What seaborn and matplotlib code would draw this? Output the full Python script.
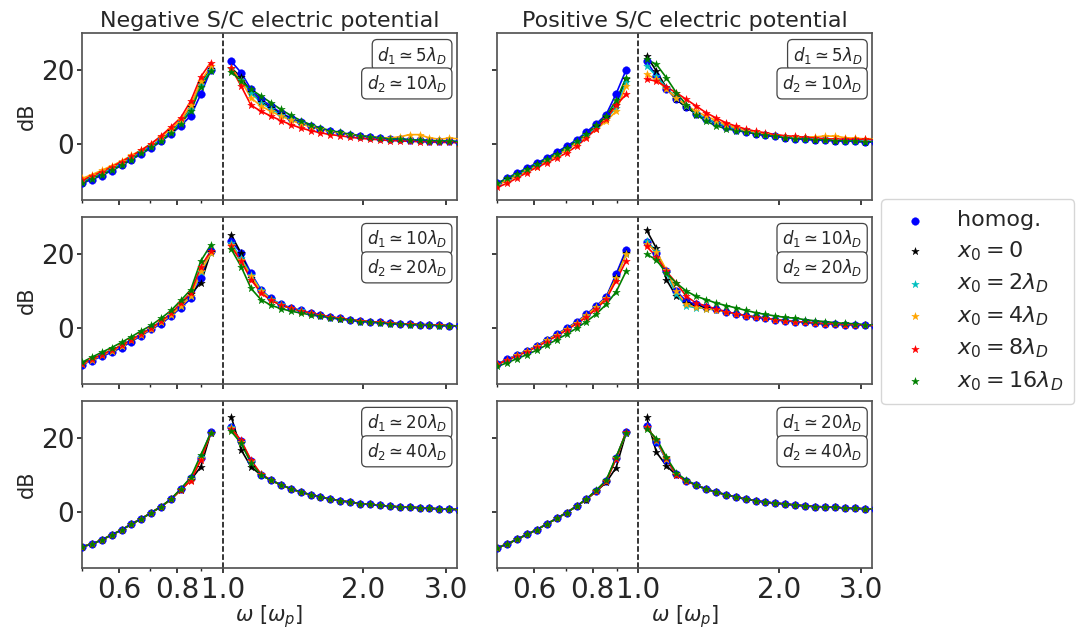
import matplotlib
matplotlib.use("Agg")
import matplotlib.pyplot as plt
import seaborn as sns
from matplotlib.ticker import NullFormatter

# frequencies (units of omega_p), below and above the plasma frequency
omega_low = [0.500, 0.525, 0.551, 0.579, 0.608, 0.638, 0.670, 0.704, 0.739, 0.776, 0.814, 0.855, 0.898, 0.943]
omega_high = [1.043, 1.095, 1.150, 1.207, 1.268, 1.331, 1.398, 1.468, 1.541, 1.618, 1.699, 1.784,
              1.873, 1.967, 2.065, 2.168, 2.277, 2.391, 2.510, 2.636, 2.767, 2.906, 3.051, 3.204]

# --- negative potential, d1 ~ 5 lambda_D
neg5_homog = [-10.5, -9.5, -8.4, -7.1, -5.7, -4.2, -2.6, -1.0, 0.8, 2.8, 5.0, 7.7, 13.5, 20.0,
              22.3, 19.3, 14.8, 12.1, 10.3, 8.5, 7.1, 6.0, 5.0, 4.2, 3.5, 3.1, 2.6, 2.3, 2.0, 1.7, 1.5, 1.4, 1.2, 1.1, 1.0, 0.9, 0.8, 0.7]
neg5_x0 = [-10.0, -9.0, -7.9, -6.6, -5.2, -3.7, -2.1, -0.5, 1.3, 3.5, 6.0, 10.0, 16.5, 20.3,
           20.6, 18.0, 14.0, 11.5, 9.8, 8.2, 6.9, 5.8, 4.9, 4.1, 3.5, 3.0, 2.6, 2.3, 2.0, 1.7, 1.5, 1.4, 1.2, 1.1, 1.0, 0.9, 0.8, 0.7]
neg5_x2 = [-10.0, -9.0, -7.9, -6.6, -5.2, -3.7, -2.1, -0.5, 1.3, 3.4, 5.9, 9.5, 16.0, 20.0,
           20.2, 17.2, 13.9, 11.2, 9.5, 8.0, 6.7, 5.7, 4.8, 4.1, 3.5, 3.0, 2.6, 2.3, 2.0, 1.7, 1.5, 1.4, 1.2, 1.1, 1.0, 0.9, 0.8, 0.7]
neg5_x4 = [-9.2, -8.2, -7.0, -5.8, -4.5, -3.0, -1.5, 0.2, 2.0, 4.2, 6.5, 10.5, 17.0, 21.0,
           20.6, 17.0, 12.5, 10.3, 8.9, 7.6, 6.5, 5.5, 4.7, 4.0, 3.4, 3.0, 2.6, 2.3, 2.0, 1.8, 1.7, 2.0, 2.6, 2.6, 1.7, 1.4, 1.6, 1.5]
neg5_x8 = [-9.6, -8.6, -7.4, -6.1, -4.7, -3.2, -1.6, 0.2, 2.3, 4.7, 7.2, 11.7, 18.2, 22.0,
           20.5, 15.7, 10.5, 8.9, 7.6, 6.4, 5.3, 4.4, 3.7, 3.1, 2.6, 2.3, 1.9, 1.6, 1.4, 1.2, 1.0, 0.9, 0.8, 0.7, 0.6, 0.5, 0.5, 0.4]
neg5_x16 = [-10.3, -9.3, -8.2, -7.0, -5.6, -4.1, -2.4, -0.8, 1.0, 3.0, 5.5, 9.0, 15.5, 19.6,
            19.5, 17.0, 14.8, 13.0, 11.2, 9.4, 7.8, 6.4, 5.3, 4.4, 3.7, 3.2, 2.7, 2.3, 2.0, 1.7, 1.5, 1.4, 1.2, 1.1, 1.0, 0.9, 0.8, 0.7]

# --- positive potential, d1 ~ 5 lambda_D
pos5_homog = [-10.5, -9.1, -7.7, -6.4, -5.0, -3.7, -2.1, -0.5, 1.2, 3.3, 5.5, 8.0, 13.6, 20.0,
              22.3, 18.4, 15.0, 12.1, 10.0, 8.2, 6.7, 5.6, 4.6, 3.9, 3.3, 2.8, 2.4, 2.1, 1.8, 1.5, 1.4, 1.2, 1.1, 1.0, 0.9, 0.8, 0.7, 0.6]
pos5_x0 = [-10.7, -9.4, -8.0, -6.7, -5.4, -4.1, -2.6, -1.0, 0.7, 2.7, 4.8, 7.3, 10.7, 17.5,
           23.8, 19.7, 15.2, 12.1, 10.0, 8.2, 6.9, 5.8, 4.9, 4.2, 3.5, 2.9, 2.5, 2.1, 1.8, 1.6, 1.4, 1.2, 1.1, 1.0, 0.9, 0.8, 0.7, 0.6]
pos5_x2 = [-10.8, -9.6, -8.2, -6.9, -5.6, -4.3, -2.8, -1.2, 0.5, 2.4, 4.5, 6.9, 9.8, 16.8,
           21.1, 18.4, 15.2, 12.5, 10.3, 8.5, 6.9, 5.8, 4.9, 4.1, 3.5, 3.0, 2.6, 2.2, 1.9, 1.7, 1.5, 1.3, 1.2, 1.1, 1.0, 0.9, 0.8, 0.7]
pos5_x4 = [-11.0, -9.8, -8.6, -7.3, -6.0, -4.6, -3.1, -1.5, 0.2, 2.0, 4.0, 6.2, 8.9, 15.7,
           18.8, 17.5, 14.8, 12.5, 10.5, 8.9, 7.6, 6.4, 5.3, 4.4, 3.7, 3.2, 2.8, 2.5, 2.2, 2.0, 1.9, 2.0, 2.2, 2.2, 1.8, 1.6, 1.5, 1.5]
pos5_x8 = [-11.6, -10.5, -9.1, -7.6, -6.2, -5.0, -3.7, -2.3, -0.5, 1.7, 4.2, 6.9, 10.5, 13.4,
           17.5, 17.0, 15.4, 13.9, 12.1, 10.3, 8.5, 7.1, 5.8, 4.9, 4.1, 3.5, 3.1, 2.6, 2.3, 2.1, 1.9, 1.7, 1.5, 1.4, 1.4, 1.3, 1.3, 1.2]
pos5_x16 = [-10.5, -9.2, -7.9, -6.6, -5.3, -4.0, -2.5, -0.9, 0.9, 2.9, 5.1, 7.6, 11.8, 17.9,
            22.9, 21.5, 17.9, 13.9, 10.7, 8.0, 6.2, 5.0, 4.2, 3.7, 3.3, 2.8, 2.4, 2.1, 1.8, 1.5, 1.4, 1.2, 1.1, 1.0, 0.9, 0.8, 0.7, 0.6]

# --- negative potential, d1 ~ 10 lambda_D
neg10_homog = [-9.8, -8.7, -7.6, -6.5, -5.2, -3.6, -2.0, -0.3, 1.2, 3.3, 5.5, 8.0, 13.5, 20.8,
               23.5, 20.2, 14.8, 10.4, 8.0, 6.4, 5.5, 4.8, 4.2, 3.6, 3.0, 2.7, 2.3, 2.0, 1.8, 1.6, 1.4, 1.2, 1.1, 1.0, 0.9, 0.8, 0.7, 0.6]
neg10_x0 = [-9.6, -8.4, -7.2, -6.0, -4.7, -3.2, -1.6, 0.0, 1.7, 3.7, 6.0, 9.2, 12.2, 20.4,
            25.1, 20.2, 13.5, 10.0, 7.8, 6.3, 5.4, 4.7, 4.1, 3.5, 3.0, 2.6, 2.3, 2.0, 1.8, 1.6, 1.4, 1.2, 1.1, 1.0, 0.9, 0.8, 0.7, 0.6]
neg10_x2 = [-9.6, -8.4, -7.2, -6.0, -4.7, -3.2, -1.6, 0.0, 1.7, 3.7, 6.0, 8.8, 15.0, 20.2,
            22.9, 18.8, 14.4, 10.2, 7.9, 6.4, 5.5, 4.8, 4.2, 3.6, 3.0, 2.7, 2.3, 2.0, 1.8, 1.6, 1.4, 1.2, 1.1, 1.0, 0.9, 0.8, 0.7, 0.6]
neg10_x4 = [-9.7, -8.5, -7.3, -6.1, -4.8, -3.3, -1.7, -0.1, 1.6, 3.6, 5.9, 8.7, 15.3, 20.2,
            22.4, 18.4, 14.0, 10.0, 7.7, 6.3, 5.4, 4.7, 4.1, 3.6, 3.0, 2.7, 2.3, 2.0, 1.8, 1.6, 1.4, 1.2, 1.1, 1.0, 0.9, 0.8, 0.7, 0.6]
neg10_x8 = [-9.5, -8.3, -7.1, -5.9, -4.6, -3.1, -1.5, 0.1, 1.9, 4.0, 6.8, 9.5, 16.6, 20.8,
            22.0, 18.0, 13.1, 9.5, 7.5, 6.2, 5.4, 4.7, 4.1, 3.6, 3.0, 2.7, 2.3, 2.0, 1.8, 1.6, 1.4, 1.2, 1.1, 1.0, 0.9, 0.8, 0.7, 0.6]
neg10_x16 = [-9.2, -7.8, -6.5, -5.2, -3.8, -2.3, -0.7, 0.8, 2.7, 4.8, 7.5, 10.4, 18.1, 22.4,
             21.3, 16.6, 10.7, 7.7, 6.2, 5.3, 4.6, 4.1, 3.6, 3.2, 2.8, 2.4, 2.1, 1.8, 1.6, 1.4, 1.2, 1.1, 1.0, 0.9, 0.8, 0.7, 0.7, 0.6]

# --- positive potential, d1 ~ 10 lambda_D
pos10_homog = [-9.6, -8.4, -7.2, -6.0, -4.7, -3.1, -1.6, 0.0, 1.7, 3.7, 6.0, 8.4, 14.6, 21.1,
               23.3, 20.2, 15.3, 10.0, 7.3, 6.4, 5.7, 5.1, 4.4, 3.9, 3.4, 3.0, 2.7, 2.3, 2.0, 1.8, 1.6, 1.4, 1.2, 1.1, 1.0, 0.9, 0.8, 0.7]
pos10_x0 = [-9.7, -8.5, -7.3, -6.1, -4.8, -3.3, -1.8, -0.2, 1.5, 3.4, 5.6, 8.2, 13.8, 20.2,
            26.4, 21.5, 13.1, 8.6, 6.9, 6.1, 5.5, 5.0, 4.4, 3.9, 3.4, 3.0, 2.7, 2.3, 2.0, 1.8, 1.6, 1.4, 1.2, 1.1, 1.0, 0.9, 0.8, 0.7]
pos10_x2 = [-9.7, -8.5, -7.3, -6.1, -4.8, -3.3, -1.8, -0.2, 1.5, 3.4, 5.6, 8.1, 13.5, 19.9,
            23.5, 20.8, 14.8, 9.1, 6.0, 5.5, 5.3, 4.9, 4.4, 3.9, 3.4, 3.0, 2.7, 2.3, 2.0, 1.8, 1.6, 1.4, 1.2, 1.1, 1.0, 0.9, 0.8, 0.7]
pos10_x4 = [-9.7, -8.5, -7.3, -6.1, -4.8, -3.3, -1.8, -0.2, 1.5, 3.5, 5.7, 8.2, 13.5, 19.9,
            22.8, 20.6, 15.7, 10.0, 6.4, 5.7, 5.3, 4.9, 4.4, 3.9, 3.4, 3.0, 2.7, 2.3, 2.0, 1.8, 1.6, 1.4, 1.2, 1.1, 1.0, 0.9, 0.8, 0.7]
pos10_x8 = [-9.7, -8.6, -7.5, -6.3, -5.0, -3.6, -2.1, -0.5, 1.2, 3.0, 5.2, 7.8, 12.8, 18.1,
            22.0, 19.3, 15.3, 12.2, 8.6, 6.8, 6.0, 5.2, 4.5, 3.9, 3.4, 3.0, 2.7, 2.3, 2.0, 1.8, 1.6, 1.4, 1.2, 1.1, 1.0, 0.9, 0.8, 0.7]
pos10_x16 = [-10.3, -9.3, -8.2, -7.1, -5.9, -4.5, -3.1, -1.6, 0.0, 1.8, 3.8, 6.4, 9.8, 15.3,
             19.9, 18.4, 14.8, 12.2, 10.0, 8.6, 7.7, 6.8, 6.1, 5.5, 4.8, 4.2, 3.7, 3.3, 2.9, 2.7, 2.3, 2.0, 1.8, 1.5, 1.3, 1.2, 1.0, 0.8]

# --- negative potential, d1 ~ 20 lambda_D
neg20_homog = [-9.3, -8.6, -7.5, -6.1, -4.8, -3.2, -1.8, -0.1, 1.5, 3.5, 6.2, 9.2, 14.6, 21.5,
               23.0, 19.1, 13.7, 10.1, 8.6, 7.4, 6.3, 5.4, 4.7, 4.1, 3.5, 3.1, 2.7, 2.3, 2.1, 1.8, 1.6, 1.4, 1.3, 1.2, 1.0, 0.9, 0.8, 0.7]
neg20_x0 = [-9.3, -8.6, -7.5, -6.1, -4.8, -3.2, -1.8, -0.1, 1.5, 3.5, 6.0, 8.7, 12.2, 21.3,
            25.7, 16.8, 12.2, 10.0, 8.6, 7.4, 6.3, 5.4, 4.7, 4.1, 3.5, 3.1, 2.7, 2.3, 2.1, 1.8, 1.6, 1.4, 1.3, 1.2, 1.0, 0.9, 0.8, 0.7]
neg20_x2 = [-9.3, -8.6, -7.5, -6.1, -4.8, -3.2, -1.8, -0.1, 1.5, 3.5, 6.2, 9.0, 14.8, 21.4,
            22.8, 18.8, 13.5, 10.1, 8.6, 7.4, 6.3, 5.4, 4.7, 4.1, 3.5, 3.1, 2.7, 2.3, 2.1, 1.8, 1.6, 1.4, 1.3, 1.2, 1.0, 0.9, 0.8, 0.7]
neg20_x4 = [-9.3, -8.6, -7.5, -6.1, -4.8, -3.2, -1.8, -0.1, 1.5, 3.5, 6.1, 9.0, 14.5, 21.3,
            22.6, 19.0, 13.8, 10.2, 8.6, 7.4, 6.3, 5.4, 4.7, 4.1, 3.5, 3.1, 2.7, 2.3, 2.1, 1.8, 1.6, 1.4, 1.3, 1.2, 1.0, 0.9, 0.8, 0.7]
neg20_x8 = [-9.3, -8.6, -7.5, -6.1, -4.8, -3.2, -1.8, -0.1, 1.5, 3.5, 6.0, 8.5, 14.0, 21.3,
            22.5, 19.3, 14.0, 10.3, 8.6, 7.4, 6.3, 5.4, 4.7, 4.1, 3.5, 3.1, 2.7, 2.3, 2.1, 1.8, 1.6, 1.4, 1.3, 1.2, 1.0, 0.9, 0.8, 0.7]
neg20_x16 = [-9.3, -8.6, -7.5, -6.1, -4.8, -3.2, -1.8, -0.1, 1.5, 3.6, 6.3, 9.4, 15.4, 21.3,
             21.8, 18.5, 13.2, 10.0, 8.6, 7.4, 6.3, 5.4, 4.7, 4.1, 3.5, 3.1, 2.7, 2.3, 2.1, 1.8, 1.6, 1.4, 1.3, 1.2, 1.0, 0.9, 0.8, 0.7]

# --- positive potential, d1 ~ 20 lambda_D
pos20_homog = [-9.6, -8.6, -7.3, -6.0, -4.7, -3.2, -1.7, -0.1, 1.6, 3.5, 5.8, 8.4, 14.7, 21.5,
               23.1, 19.0, 14.0, 10.2, 8.5, 7.3, 6.2, 5.4, 4.7, 4.1, 3.5, 3.1, 2.7, 2.4, 2.2, 1.9, 1.7, 1.5, 1.4, 1.3, 1.1, 1.0, 0.9, 0.8]
pos20_x0 = [-9.6, -8.6, -7.3, -6.0, -4.7, -3.2, -1.7, -0.1, 1.6, 3.4, 5.6, 8.0, 12.0, 21.3,
            25.5, 16.1, 12.5, 10.0, 8.5, 7.3, 6.2, 5.4, 4.7, 4.1, 3.5, 3.1, 2.7, 2.4, 2.2, 1.9, 1.7, 1.5, 1.4, 1.3, 1.1, 1.0, 0.9, 0.8]
pos20_x2 = [-9.6, -8.6, -7.3, -6.0, -4.7, -3.2, -1.7, -0.1, 1.6, 3.5, 5.8, 8.4, 14.5, 21.4,
            22.9, 19.2, 14.2, 10.3, 8.5, 7.3, 6.2, 5.4, 4.7, 4.1, 3.5, 3.1, 2.7, 2.4, 2.2, 1.9, 1.7, 1.5, 1.4, 1.3, 1.1, 1.0, 0.9, 0.8]
pos20_x4 = [-9.6, -8.6, -7.3, -6.0, -4.7, -3.2, -1.7, -0.1, 1.6, 3.5, 5.8, 8.4, 14.6, 21.4,
            23.0, 19.3, 14.3, 10.3, 8.5, 7.3, 6.2, 5.4, 4.7, 4.1, 3.5, 3.1, 2.7, 2.4, 2.2, 1.9, 1.7, 1.5, 1.4, 1.3, 1.1, 1.0, 0.9, 0.8]
pos20_x8 = [-9.6, -8.6, -7.3, -6.0, -4.7, -3.2, -1.7, -0.1, 1.6, 3.5, 5.7, 8.3, 14.3, 21.6,
            22.8, 19.5, 14.5, 10.0, 8.3, 7.3, 6.2, 5.4, 4.7, 4.1, 3.5, 3.1, 2.7, 2.4, 2.2, 1.9, 1.7, 1.5, 1.4, 1.3, 1.1, 1.0, 0.9, 0.8]
pos20_x16 = [-9.6, -8.6, -7.3, -6.0, -4.7, -3.2, -1.7, -0.1, 1.6, 3.6, 5.9, 8.6, 14.9, 21.2,
             22.5, 19.8, 14.8, 10.6, 8.6, 7.3, 6.2, 5.4, 4.7, 4.1, 3.5, 3.1, 2.7, 2.4, 2.2, 1.9, 1.7, 1.5, 1.4, 1.3, 1.1, 1.0, 0.9, 0.8]

labels = ['homog.', r'$x_0 = 0$', r'$x_0 = 2\lambda_D$', r'$x_0 = 4\lambda_D$',
          r'$x_0 = 8\lambda_D$', r'$x_0 = 16\lambda_D$']
colors = ['#0000ff', '#000000', '#00bfbf', '#ffa500', '#ff0000', '#008000']
markers = ['o', '*', '*', '*', '*', '*']

panels = [
    [neg5_homog, neg5_x0, neg5_x2, neg5_x4, neg5_x8, neg5_x16],
    [pos5_homog, pos5_x0, pos5_x2, pos5_x4, pos5_x8, pos5_x16],
    [neg10_homog, neg10_x0, neg10_x2, neg10_x4, neg10_x8, neg10_x16],
    [pos10_homog, pos10_x0, pos10_x2, pos10_x4, pos10_x8, pos10_x16],
    [neg20_homog, neg20_x0, neg20_x2, neg20_x4, neg20_x8, neg20_x16],
    [pos20_homog, pos20_x0, pos20_x2, pos20_x4, pos20_x8, pos20_x16],
]
d1_text = [r'$d_1 \simeq 5\lambda_D$', r'$d_1 \simeq 10\lambda_D$', r'$d_1 \simeq 20\lambda_D$']
d2_text = [r'$d_2 \simeq 10\lambda_D$', r'$d_2 \simeq 20\lambda_D$', r'$d_2 \simeq 40\lambda_D$']

sns.set_theme(style="ticks")
plt.rcParams['font.family'] = ['DejaVu Sans']

fig, axes = plt.subplots(3, 2, figsize=(10.77, 6.31), dpi=100, sharex=True, sharey=True)
fig.subplots_adjust(left=0.076, right=0.81, top=0.948, bottom=0.1, wspace=0.107, hspace=0.1)

nlow = len(omega_low)
for i, ax in enumerate(axes.flat):
    row, col = i // 2, i % 2
    for vals, c, m, lab in zip(panels[i], colors, markers, labels):
        # two branches, below and above omega_p
        sns.lineplot(x=omega_low, y=vals[:nlow], color=c, linewidth=1.2, legend=False, ax=ax)
        sns.lineplot(x=omega_high, y=vals[nlow:], color=c, linewidth=1.2, legend=False, ax=ax)
        s = 30 if m == 'o' else 32
        sns.scatterplot(x=omega_low + omega_high, y=vals, marker=m, s=s, color=c,
                        edgecolor=c, linewidth=0.3, legend=False, label=lab, ax=ax, zorder=3)
    ax.axvline(1.0, color='black', linestyle='--', linewidth=1.1)
    ax.set_xscale('log')
    ax.set_xlim(0.5, 3.17)
    ax.set_ylim(-15, 30)
    ax.set_xticks([0.6, 0.8, 1.0, 2.0, 3.0])
    ax.set_xticklabels(['0.6', '0.8', '1.0', '2.0', '3.0'])
    ax.xaxis.set_minor_formatter(NullFormatter())
    ax.set_yticks([0, 20])
    ax.tick_params(axis='x', which='major', labelsize=20, length=3.5, pad=2)
    ax.tick_params(axis='y', which='major', labelsize=19, length=3.5, pad=2)
    ax.tick_params(axis='x', which='minor', length=2)
    for sp in ax.spines.values():
        sp.set_color('#555555')
    box = dict(boxstyle='round,pad=0.3', facecolor='white', edgecolor='#444444', linewidth=0.9)
    ax.text(0.973, 0.93, d1_text[row], transform=ax.transAxes, ha='right', va='top',
            fontsize=12, bbox=box)
    ax.text(0.973, 0.76, d2_text[row], transform=ax.transAxes, ha='right', va='top',
            fontsize=12, bbox=box)
    ax.set_xlabel(r'$\omega\ [\omega_p]$' if row == 2 else '', fontsize=15, labelpad=0)
    ax.set_ylabel('dB' if col == 0 else '', fontsize=15, labelpad=3)

axes[0, 0].set_title('Negative S/C electric potential', fontsize=16, pad=4)
axes[0, 1].set_title('Positive S/C electric potential', fontsize=16, pad=4)

handles, labs = axes[0, 0].get_legend_handles_labels()
fig.legend(handles, labs, loc='center left', bbox_to_anchor=(0.808, 0.522), fontsize=16,
           frameon=True, handletextpad=0.9, borderpad=0.5, labelspacing=0.4)

fig.savefig("out.png", dpi=100)
